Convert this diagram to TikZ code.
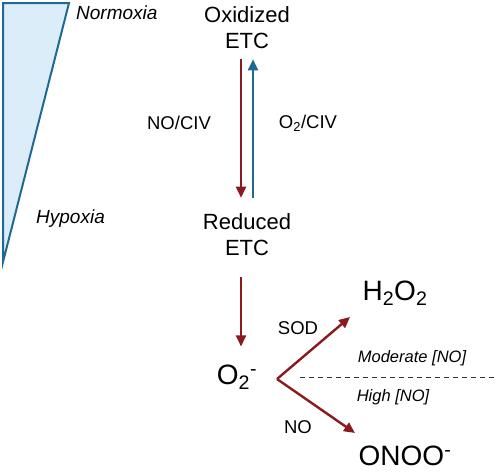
\documentclass[tikz,border=0pt]{standalone}
\usepackage{fontspec}
\setmainfont{Liberation Sans}
\usetikzlibrary{arrows.meta}
\definecolor{etcred}{HTML}{8B1A1F}
\definecolor{etcblue}{HTML}{1E6A94}
\definecolor{wedgefill}{HTML}{DCEDFA}
\begin{document}
\begin{tikzpicture}[x=1pt,y=-1pt]
\tikzset{every node/.style={inner sep=0pt},
  big/.style={font=\fontsize{22}{26}\selectfont,align=center},
  huge/.style={font=\fontsize{28}{32}\selectfont},
  lab/.style={font=\fontsize{18.5}{22}\selectfont},
  cond/.style={font=\fontsize{16.5}{20}\selectfont\itshape},
  redarr/.style={draw=etcred,line width=2.4pt,-{Triangle[length=11pt,width=10pt]}},
  bluearr/.style={draw=etcblue,line width=2.4pt,-{Triangle[length=11pt,width=10pt]}}}
\useasboundingbox (0,0) rectangle (498,472);
% oxygen gradient
\draw [etcblue,fill=wedgefill,line width=2pt,line join=miter] (3,3) -- (69,3) -- (3,262) -- cycle;
\node [cond,font=\fontsize{19}{22}\selectfont\itshape,anchor=west] (norm) at (76,13) {Normoxia};
\node [cond,font=\fontsize{19}{22}\selectfont\itshape,anchor=west] (hyp) at (36,219) {Hypoxia};
% ETC states
\node [big] (ox) at (247,28) {Oxidized\\ETC};
\node [big] (red) at (247,235) {Reduced\\ETC};
\draw [redarr,shorten <=10pt,shorten >=16pt] ([xshift=-6]ox.south) -- ([xshift=-6]red.north);
\draw [bluearr,shorten <=16pt,shorten >=10pt] ([xshift=6]red.north) -- ([xshift=6]ox.south);
\node [lab] (noc) at (179,123) {NO/CIV};
\node [lab] (o2c) at (308,123) {O\textsubscript{2}/CIV};
% superoxide
\node [huge] (sup) at (237,377) {O\textsubscript{2}\textsuperscript{-}};
\draw [redarr,shorten <=21pt,shorten >=18pt] ([xshift=-6]red.south) -- ([xshift=4]sup.north);
\coordinate (br) at (277,379);
\node [huge] (hoo) at (395,293) {H\textsubscript{2}O\textsubscript{2}};
\node [huge] (onoo) at (405,456) {ONOO\textsuperscript{-}};
\coordinate (htip) at (350,317);
\coordinate (otip) at (355,433);
\draw [redarr,line join=round] (br) -- (htip);
\draw [redarr,line join=round] (br) -- (otip);
\node [lab] (sod) at (298,328) {SOD};
\node [lab] (no) at (298,427) {NO};
% NO threshold
\coordinate (dl) at (300,377);
\coordinate (dr) at (498,377);
\draw [black!80,line width=0.8pt,dash pattern=on 5pt off 4pt] (dl) -- (dr);
\node [cond] (mod) at (412,358) {Moderate [NO]};
\node [cond] (high) at (393,397) {High [NO]};
\end{tikzpicture}
\end{document}
